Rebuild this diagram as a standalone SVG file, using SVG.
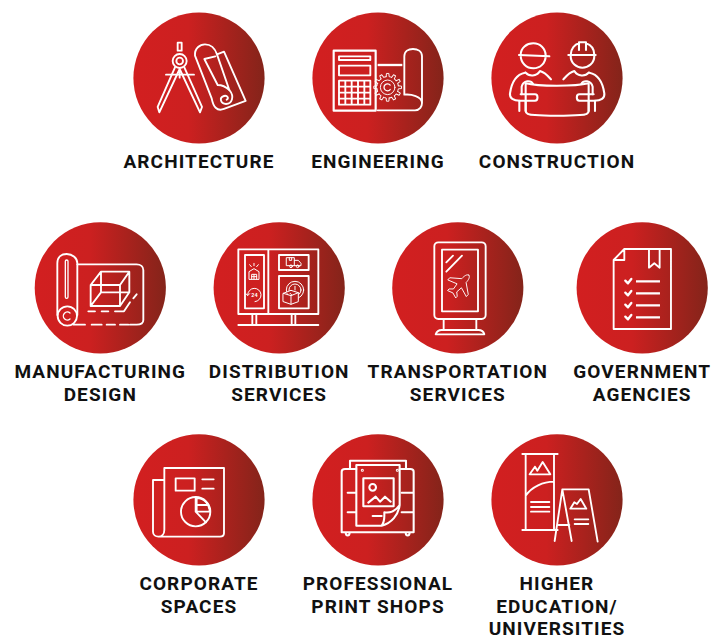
<svg xmlns="http://www.w3.org/2000/svg" xmlns:xlink="http://www.w3.org/1999/xlink" width="712" height="637" viewBox="0 0 712 637">
<style>
.c{fill:url(#g)}
.l{font:700 19px Roboto,"Liberation Sans",sans-serif;letter-spacing:1.1px;text-anchor:middle;fill:#111}
.i{fill:none;stroke:#fff;stroke-width:5.6;stroke-linejoin:round;stroke-linecap:round}
.t{stroke-width:3}
.b{stroke-width:7;stroke-linecap:butt}
</style>
<defs>
<linearGradient id="g" x1="0" y1="0" x2="1" y2="0"><stop offset="0" stop-color="#d21f20"/><stop offset=".42" stop-color="#cc2020"/><stop offset="1" stop-color="#84241a"/></linearGradient>
<path id="tooth" d="M33.7-4.7L43.8-3.8V3.8L33.7 4.7A34 34 0 0 1 31.5 12.7"/>
<g id="person"><path d="M60 113C35 118 20 140 15 175C13 190 25 197 45 197H90C100 197 100 178 90 178H47"/><path d="M50 178V155C55 135 78 135 84 147"/><path d="M43 197V228M62 197V228"/><path d="M62 113C72 125 95 125 105 108C120 112 128 122 138 133"/></g>
</defs>

<g id="architecture"><circle class="c" cx="199" cy="78" r="65.6"/>
<g class="i" transform="translate(150 35) scale(.3333)"><rect x="83" y="23" width="12" height="24"/><circle cx="89" cy="78" r="21"/><circle cx="89" cy="78" r="10"/><path d="M48 119H132M89 110V128"/><path d="M75 97L23 216L28 232L89 102L150 232L156 216L103 97"/><path d="M185 190L135 62C133 40 150 28 165 28C182 28 195 40 201 58L222 50L287 198L222 222C200 230 190 215 185 190Z"/><path d="M201 58L238 165C222 150 205 150 203 150L163 72L196 64"/><path d="M238 165C255 185 245 207 228 207C212 207 206 188 222 183C232 180 238 190 230 194"/></g>
<text class="l" x="199" y="167.5">ARCHITECTURE</text></g>

<g id="engineering"><circle class="c" cx="378" cy="78" r="65.6"/>
<g class="i" transform="translate(325 38) scale(.3333)"><rect x="26" y="38" width="126" height="180" stroke-width="6.5"/><rect x="42" y="55" width="94" height="11"/><rect x="42" y="83" width="94" height="29"/><path d="M42 128H136V200H42ZM61 128V200M80 128V200M99 128V200M118 128V200M42 146H136M42 164H136M42 182H136"/><path class="b" d="M158 81H232"/>
<g class="t" transform="translate(188 148) scale(.95)"><use xlink:href="#tooth"/><use xlink:href="#tooth" transform="rotate(30)"/><use xlink:href="#tooth" transform="rotate(60)"/><use xlink:href="#tooth" transform="rotate(90)"/><use xlink:href="#tooth" transform="rotate(120)"/><use xlink:href="#tooth" transform="rotate(150)"/><use xlink:href="#tooth" transform="rotate(180)"/><use xlink:href="#tooth" transform="rotate(210)"/><use xlink:href="#tooth" transform="rotate(240)"/><use xlink:href="#tooth" transform="rotate(270)"/><use xlink:href="#tooth" transform="rotate(300)"/><use xlink:href="#tooth" transform="rotate(330)"/><circle r="23"/><path d="M8-7A11 11 0 1 0 8 7" stroke-width="4"/></g>
<path d="M158 217H270C285 217 291 205 291 195V55C291 40 278 33 264 33C250 33 238 40 238 55V170C258 168 291 175 291 195"/></g>
<text class="l" x="378" y="167.5">ENGINEERING</text></g>

<g id="construction"><circle class="c" cx="557" cy="78" r="65.6"/>
<g class="i" stroke-width="6" style="stroke-width:6.2" transform="translate(505 35) scale(.3333)"><path d="M47 60C47 38 65 25 85 25C105 25 122 40 122 62C122 85 105 100 85 100C65 100 47 85 47 60ZM42 60L133 64"/><path d="M197 60C197 40 210 28 222 25V22H243V25C258 30 268 42 268 60M190 60H272M197 62C197 85 215 98 232 98C250 98 268 85 268 62M222 25V45M243 25V45"/>
<use xlink:href="#person"/><use xlink:href="#person" transform="matrix(-1 0 0 1 313 0)"/>
<path d="M62 145C100 155 210 155 251 145V228C251 238 235 240 225 240C190 243 120 243 90 240C75 240 62 238 62 228Z"/></g>
<text class="l" x="557" y="167.5">CONSTRUCTION</text></g>

<g id="manufacturing-design"><circle class="c" cx="100.3" cy="287.8" r="65.6"/>
<g class="i" transform="translate(20 215) scale(.3333)"><path d="M112 300V145C112 125 125 117 140 117C158 117 172 130 172 145V300"/><circle cx="142" cy="303" r="29"/><rect x="136" y="135" width="8" height="115" rx="4" stroke-width="4"/><path d="M150 294A12 12 0 1 0 150 312" stroke-width="4"/><path d="M172 148H350C362 148 370 155 370 165V315C370 325 362 329 350 329H330M300 329H325M260 329H285M215 329H245M160 329H195"/>
<path d="M212 210H300V273H212ZM212 210L243 170H328L300 210M328 170V232L300 273M243 170V232L212 273M243 232H328"/><path d="M205 289H225M245 289H265M285 289H312L330 262M340 250L350 238"/></g>
<text class="l" x="100.3" y="378">MANUFACTURING</text><text class="l" x="100.3" y="401">DESIGN</text></g>

<g id="distribution-services"><circle class="c" cx="279.2" cy="287.8" r="65.6"/>
<g class="i" transform="translate(235 245) scale(.3333)"><path d="M10 13H250V207H10ZM100 13V207M10 240H250M52 207V240M64 207V240M170 207V240M181 207V240"/><rect x="30" y="30" width="57" height="160"/><rect x="132" y="30" width="89" height="45"/><rect x="132" y="93" width="89" height="97"/>
<g class="t"><path d="M42 102V80L57 71L72 80V102ZM50 102V88H65V102M57 88V102M50 95H65M57 55V62M44 59L49 65M70 59L65 65"/><path d="M38 150A20 20 0 1 1 60 170M33 146L38 152L44 146"/><path d="M155 38H178V62H155ZM178 46H190L198 55V62H178M163 38V46H170V38"/><circle cx="168" cy="64" r="4"/><circle cx="188" cy="64" r="4"/><circle cx="180" cy="135" r="26"/><circle cx="180" cy="135" r="18"/></g>
<path class="t" style="fill:#b82221" d="M145 145L168 136L190 143V170L168 178L145 170ZM145 145L168 152L190 143M168 152V178"/><path class="t" d="M180 124V135"/></g>
<text x="254.5" y="297" style="font:700 5.5px Roboto,'Liberation Sans',sans-serif;fill:#fff;text-anchor:middle">24</text>
<text class="l" x="279.2" y="378">DISTRIBUTION</text><text class="l" x="279.2" y="401">SERVICES</text></g>

<g id="transportation-services"><circle class="c" cx="457.8" cy="287.8" r="65.6"/>
<g class="i" transform="translate(385 215) scale(.3333)"><rect x="148" y="82" width="154" height="230" rx="12"/><rect x="171" y="104" width="108" height="185"/><path d="M184 142L204 122M184 170L231 122M176 312V345M274 312V345M152 358C155 350 160 345 170 345H280C290 345 296 350 298 358Z"/><path stroke-width="2.4" style="stroke-width:2.4" transform="translate(225 210) rotate(42) scale(1.1)" d="M0-36C6-36 8-26 8-16L34 4V12L8 3L6 20L15 28V34L0 29L-15 34V28L-6 20L-8 3L-34 12V4L-8-16C-8-26-6-36 0-36Z"/></g>
<text class="l" x="457.8" y="378">TRANSPORTATION</text><text class="l" x="457.8" y="401">SERVICES</text></g>

<g id="government-agencies"><circle class="c" cx="642.2" cy="287.8" r="65.6"/>
<g class="i" transform="translate(385 215) scale(.3333)"><path d="M686 342V135L718 102H858V342ZM718 102V135H686M792 102V158L808 145L824 158V102"/><path class="b" d="M753 199H825M753 235H825M753 271H825M753 307H825"/><path style="stroke-width:7" d="M721 197L729 205L739 192M721 233L729 241L739 228M721 269L729 277L739 264M721 305L729 313L739 300"/></g>
<text class="l" x="642.2" y="378">GOVERNMENT</text><text class="l" x="642.2" y="401">AGENCIES</text></g>

<g id="corporate-spaces"><circle class="c" cx="199" cy="499.8" r="65.6"/>
<g class="i" transform="translate(125 430) scale(.3333)"><path d="M118 300V114H297V310C297 318 292 320 285 320H100M118 150H84V305C84 315 92 320 100 320C110 320 118 312 118 300"/><rect x="152" y="145" width="57" height="37"/><path d="M232 148H266M232 176H266"/><circle cx="212" cy="245" r="44"/><path d="M212 201V245L243 277M215 204C240 204 254 225 254 245H215ZM215 225H250"/></g>
<text class="l" x="199" y="589.5">CORPORATE</text><text class="l" x="199" y="612.5">SPACES</text></g>

<g id="professional-print-shops"><circle class="c" cx="378" cy="499.8" r="65.6"/>
<g class="i" style="stroke-width:6.2" transform="translate(335 455) scale(.3333)"><path d="M45 42V17H213V42M64 42H30C24 42 20 46 20 50V232H236V50C236 46 232 42 226 42H194M38 113H62M38 172H62M200 113H236M200 172H236M32 232C32 245 44 245 44 232M212 232C212 245 224 245 224 232"/><path d="M64 30H194V150C180 170 165 175 148 172C148 185 150 200 140 212H64ZM194 150C190 180 170 205 140 212"/><rect x="85" y="70" width="91" height="84"/><circle cx="113" cy="97" r="10"/><path d="M100 143L122 125L135 140L150 125L167 140M113 183H140"/><circle cx="82" cy="46" r="1.5"/><circle cx="187" cy="46" r="1.5"/></g>
<text class="l" x="378" y="589.5">PROFESSIONAL</text><text class="l" x="378" y="612.5">PRINT SHOPS</text></g>

<g id="higher-education"><circle class="c" cx="557" cy="499.8" r="65.6"/>
<g class="i" transform="translate(480 430) scale(.3333)"><path d="M127 72H233M127 300H233M137 72V300M222 72V300M137 197C155 170 190 155 222 155M149 133H211L188 96L172 122L165 110ZM153 216H208M153 231H208M153 245H208"/><path d="M247 178H326L353 335M247 178L275 333M247 178L224 333M236 285H268M271 236H319L302 207L291 222L283 217ZM284 268H325M284 282H325"/></g>
<text class="l" x="557" y="589.5">HIGHER</text><text class="l" x="557" y="612.5">EDUCATION/</text><text class="l" x="557" y="635">UNIVERSITIES</text></g>
</svg>
